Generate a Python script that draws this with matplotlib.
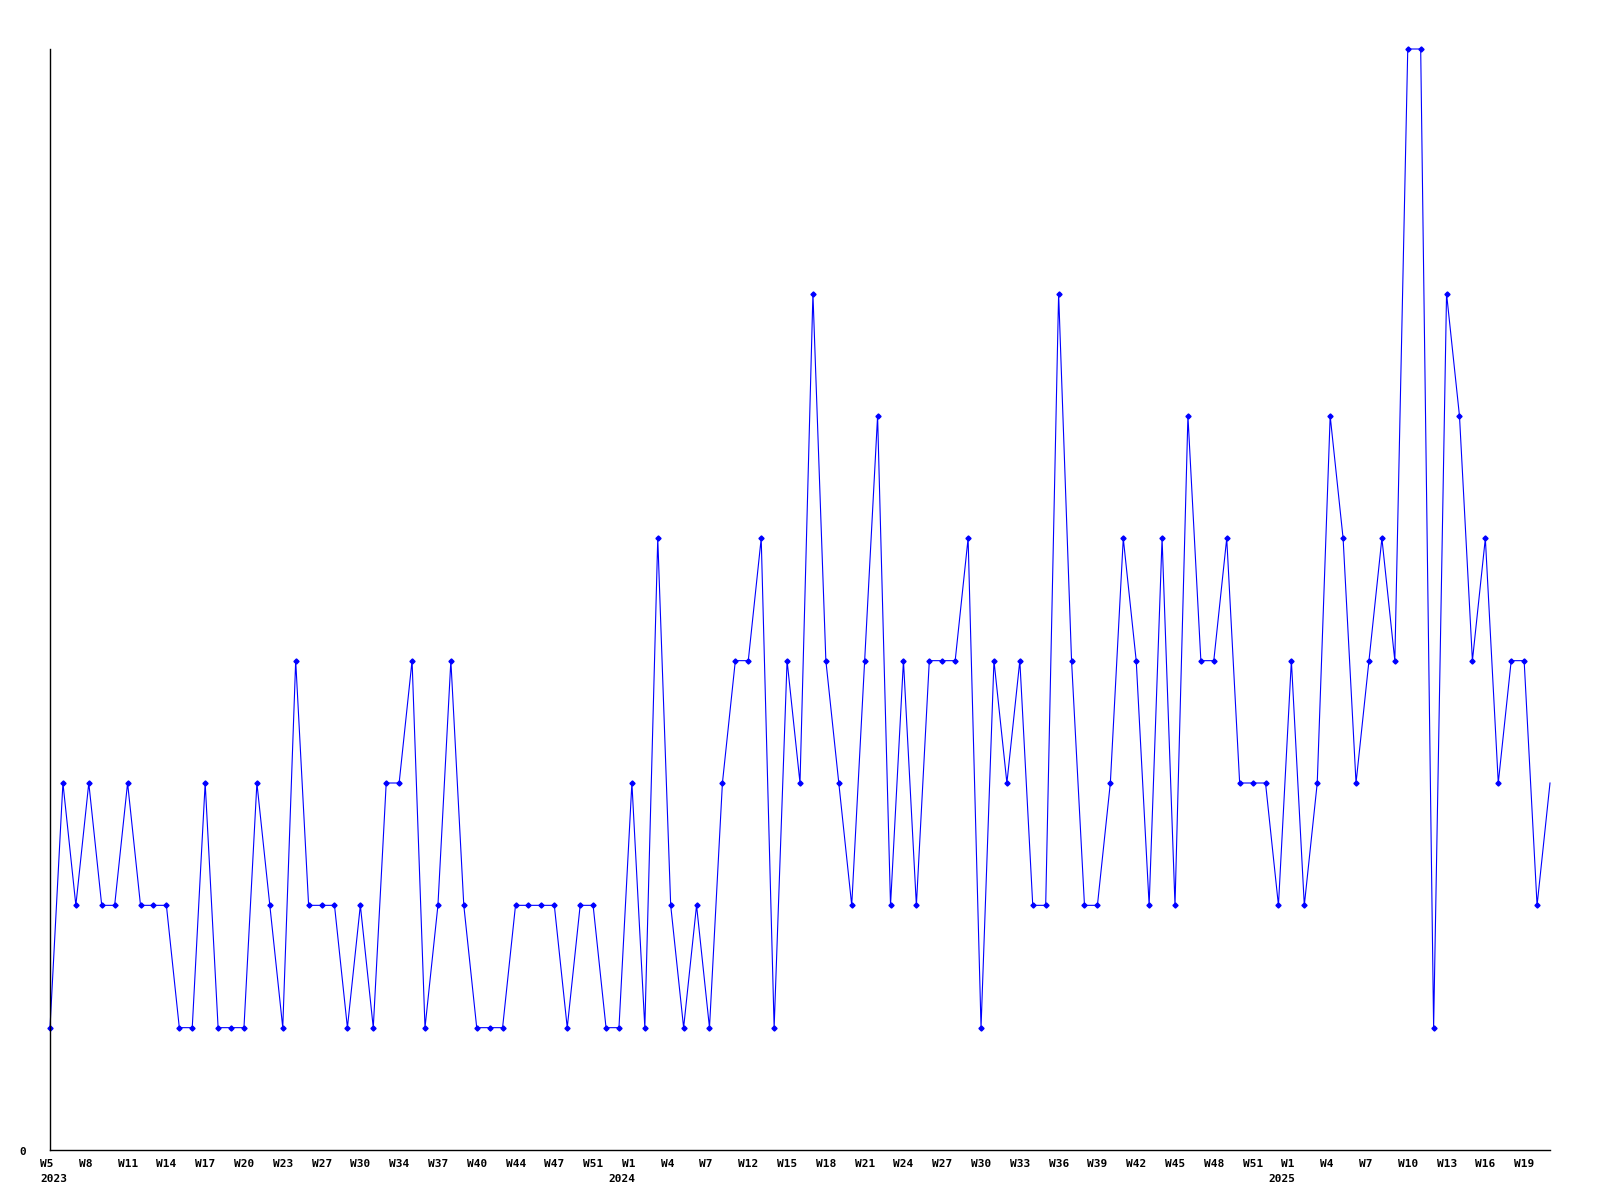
import matplotlib
matplotlib.use("Agg")
import matplotlib.pyplot as plt
import matplotlib.transforms as mtransforms

# weekly counts (one value per point, left to right)
values = [
    1, 3, 2, 3, 2, 2, 3, 2, 2, 2, 1, 1, 3, 1, 1, 1, 3, 2, 1, 4,
    2, 2, 2, 1, 2, 1, 3, 3, 4, 1, 2, 4, 2, 1, 1, 1, 2, 2, 2, 2,
    1, 2, 2, 1, 1, 3, 1, 5, 2, 1, 2, 1, 3, 4, 4, 5, 1, 4, 3, 7,
    4, 3, 2, 4, 6, 2, 4, 2, 4, 4, 4, 5, 1, 4, 3, 4, 2, 2, 7, 4,
    2, 2, 3, 5, 4, 2, 5, 2, 6, 4, 4, 5, 3, 3, 3, 2, 4, 2, 3, 6,
    5, 3, 4, 5, 4, 9, 9, 1, 7, 6, 4, 5, 3, 4, 4, 2, 3,
]

# x axis labels, one every third point
week_labels = [
    "W5", "W8", "W11", "W14", "W17", "W20", "W23", "W27", "W30", "W34",
    "W37", "W40", "W44", "W47", "W51", "W1", "W4", "W7", "W12", "W15",
    "W18", "W21", "W24", "W27", "W30", "W33", "W36", "W39", "W42", "W45",
    "W48", "W51", "W1", "W4", "W7", "W10", "W13", "W16", "W19",
]
years = ["2023", "2024", "2025"]
year_label_index = [0, 15, 32]   # which week label each year sits under

x = list(range(len(values)))
label_pos = [3 * i for i in range(len(week_labels))]

fig = plt.figure(figsize=(16, 12), dpi=100)
ax = fig.add_axes([50 / 1600, 50 / 1200, 1500 / 1600, 1101 / 1200])

ax.plot(x, values, color="#0000ff", linewidth=0.8, marker="D", markersize=2.6,
        markevery=list(range(len(values) - 1)), clip_on=False)

ax.set_xlim(0, len(values) - 1)
ax.set_ylim(0, max(values))

for side in ["top", "right"]:
    ax.spines[side].set_visible(False)
for side in ["left", "bottom"]:
    ax.spines[side].set_color("black")
    ax.spines[side].set_linewidth(1.0)

font = dict(family="DejaVu Sans Mono", weight="bold", size=8)

ax.set_yticks([])
ax.set_xticks(label_pos)
ax.set_xticklabels(week_labels, **font)
ax.tick_params(axis="x", length=0, pad=6.5)
shift = mtransforms.ScaledTranslation(-10 / 100, 0, fig.dpi_scale_trans)
for lab in ax.get_xticklabels():
    lab.set_horizontalalignment("left")
    lab.set_transform(lab.get_transform() + shift)

# y axis only shows the zero label
ax.annotate("0", xy=(0, 0), xycoords="data", xytext=(-24, -2),
            textcoords="offset pixels", ha="right", va="center", **font)

# year labels under the first week of each year
for yr, li in zip(years, year_label_index):
    pos = label_pos[li]
    if li == 0:
        ax.annotate(yr, xy=(pos, 0), xycoords="data", xytext=(-10, -24),
                    textcoords="offset pixels", ha="left", va="top", **font)
    else:
        ax.annotate(yr, xy=(pos, 0), xycoords="data", xytext=(-10, -24),
                    textcoords="offset pixels", ha="center", va="top", **font)

fig.savefig("out.png", dpi=100, facecolor="white")
